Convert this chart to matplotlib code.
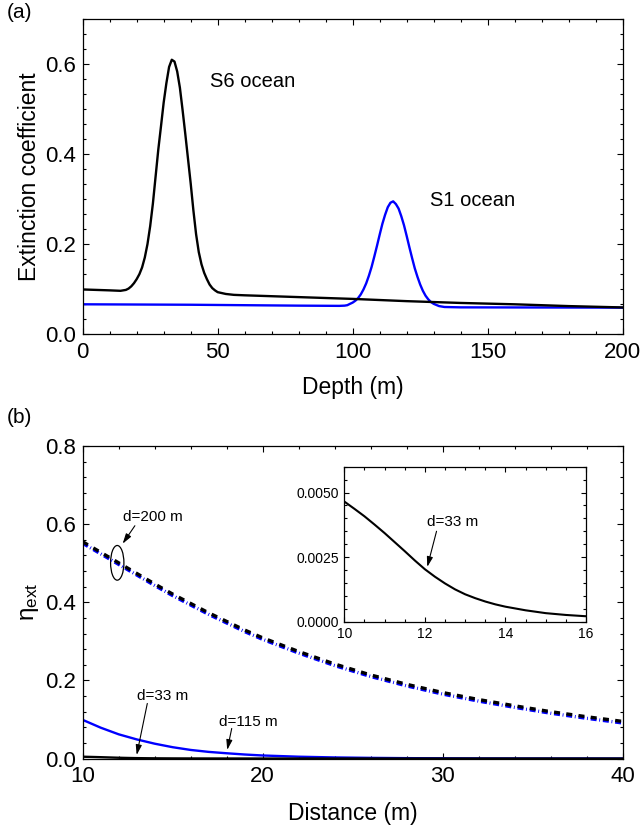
import matplotlib
matplotlib.use("Agg")
import matplotlib.pyplot as plt
from matplotlib.ticker import MultipleLocator, AutoMinorLocator, FormatStrFormatter
from matplotlib.patches import Ellipse

plt.rcParams['font.family'] = ['Liberation Sans', 'DejaVu Sans']
plt.rcParams['mathtext.fontset'] = 'custom'
plt.rcParams['mathtext.rm'] = 'Liberation Sans'
plt.rcParams['mathtext.it'] = 'Liberation Sans:italic'

# ---- (a) extinction coefficient profiles versus depth ----
depth_s6 = [0, 5, 10, 14, 16, 17, 18, 19, 20, 21, 22, 23, 24, 25, 26, 27, 28, 29,
            30, 31, 32, 33, 34, 35, 36, 37, 38, 39, 40, 41, 42, 43, 44, 45, 46,
            47, 48, 49, 50, 53, 56, 60, 80, 100, 120, 140, 160, 180, 200]
ext_s6 = [0.099, 0.098, 0.097, 0.096, 0.098, 0.101, 0.106, 0.113, 0.122, 0.133,
          0.148, 0.170, 0.200, 0.240, 0.290, 0.350, 0.410, 0.462, 0.515, 0.558,
          0.594, 0.610, 0.606, 0.584, 0.548, 0.498, 0.445, 0.390, 0.335, 0.275,
          0.222, 0.182, 0.155, 0.136, 0.122, 0.110, 0.102, 0.097, 0.093, 0.089,
          0.087, 0.086, 0.082, 0.078, 0.073, 0.069, 0.066, 0.062, 0.059]

depth_s1 = [0, 20, 40, 60, 80, 95, 97, 98, 99, 100, 101, 102, 103, 104, 105, 106,
            107, 108, 109, 110, 111, 112, 113, 114, 115, 116, 117, 118, 119, 120,
            121, 122, 123, 124, 125, 126, 127, 128, 129, 130, 131, 132, 133, 134,
            140, 160, 180, 200]
ext_s1 = [0.066, 0.0655, 0.065, 0.064, 0.063, 0.0625, 0.0630, 0.064, 0.067,
          0.0698, 0.074, 0.0797, 0.088, 0.099, 0.1125, 0.1295, 0.149, 0.172,
          0.196, 0.221, 0.245, 0.265, 0.282, 0.292, 0.295, 0.289, 0.279, 0.262,
          0.242, 0.218, 0.193, 0.169, 0.146, 0.127, 0.110, 0.096, 0.085, 0.077,
          0.071, 0.067, 0.0645, 0.062, 0.061, 0.060, 0.0592, 0.059, 0.0588,
          0.0585]

# ---- (b) eta_ext versus distance ----
distance = [10, 11, 12, 13, 14, 15, 16, 17, 18, 19, 20, 22, 24, 26, 28, 30, 32,
            34, 36, 38, 40]
eta_s6_200 = [0.555, 0.528, 0.501, 0.474, 0.447, 0.421, 0.397, 0.373, 0.351,
              0.329, 0.309, 0.274, 0.242, 0.214, 0.190, 0.169, 0.151, 0.135,
              0.120, 0.107, 0.095]
eta_s1_200 = [0.551, 0.524, 0.497, 0.470, 0.443, 0.417, 0.393, 0.369, 0.347,
              0.325, 0.305, 0.270, 0.238, 0.210, 0.186, 0.165, 0.147, 0.131,
              0.116, 0.103, 0.091]
eta_s1_115 = [0.099, 0.079, 0.062, 0.049, 0.038, 0.029, 0.022, 0.017, 0.0135,
              0.0103, 0.0078, 0.0047, 0.0028, 0.0017, 0.0010, 0.0006, 0.0003,
              0.0002, 0.0001, 0.0001, 0.0]

distance_fine = [10, 10.25, 10.5, 10.75, 11, 11.25, 11.5, 11.75, 12, 12.25, 12.5,
                 12.75, 13, 13.25, 13.5, 13.75, 14, 14.5, 15, 15.5, 16, 17, 18,
                 20, 25, 30, 40]
eta_s6_33 = [0.00465, 0.00437, 0.00408, 0.00376, 0.00343, 0.00308, 0.00273,
             0.00237, 0.00203, 0.00174, 0.00148, 0.00125, 0.00106, 0.00091,
             0.00078, 0.00067, 0.00058, 0.00044, 0.00033, 0.00026, 0.00021,
             0.00013, 0.00008, 0.00003, 0.0, 0.0, 0.0]


def style_axes(ax, xmin_div, ymin_div, labelsize, xpad, ypad):
    ax.xaxis.set_minor_locator(AutoMinorLocator(xmin_div))
    ax.yaxis.set_minor_locator(AutoMinorLocator(ymin_div))
    ax.tick_params(which='both', direction='in', top=True, right=True,
                   width=0.8, color='black')
    ax.tick_params(which='major', length=4.5, labelsize=labelsize)
    ax.tick_params(axis='x', which='major', pad=xpad)
    ax.tick_params(axis='y', which='major', pad=ypad)
    ax.tick_params(which='minor', length=2.5)
    for sp in ax.spines.values():
        sp.set_linewidth(0.9)


fig = plt.figure(figsize=(6.41, 8.32), dpi=100)

# panel (a)
ax_a = fig.add_axes([0.1290, 0.5986, 0.8424, 0.3782])
ax_a.plot(depth_s1, ext_s1, color='#0000ff', lw=1.7)
ax_a.plot(depth_s6, ext_s6, color='black', lw=1.7)
ax_a.set_xlim(0, 200)
ax_a.set_ylim(0, 0.7)
ax_a.xaxis.set_major_locator(MultipleLocator(50))
ax_a.yaxis.set_major_locator(MultipleLocator(0.2))
ax_a.yaxis.set_major_formatter(FormatStrFormatter('%.1f'))
style_axes(ax_a, 5, 6, 16, 5.5, 4.5)
ax_a.set_xlabel('Depth (m)', fontsize=16.5, va='center')
ax_a.xaxis.set_label_coords(0.5, -0.1716)
ax_a.set_ylabel('Extinction coefficient', fontsize=16.5, va='center')
ax_a.yaxis.set_label_coords(-0.0983, 0.5)
ax_a.text(47, 0.561, 'S6 ocean', fontsize=14.5, ha='left', va='center')
ax_a.text(128.8, 0.297, 'S1 ocean', fontsize=14.5, ha='left', va='center')

# panel (b)
ax_b = fig.add_axes([0.1290, 0.0883, 0.8424, 0.3756])
ax_b.plot(distance, eta_s1_200, color='#0000ff', lw=2.4,
          dashes=(1.8, 0.8, 0.25, 0.85))
ax_b.plot(distance, eta_s6_200, color='black', lw=2.4, dashes=(1.8, 1.9))
ax_b.plot(distance, eta_s1_115, color='#0000ff', lw=1.7)
ax_b.plot(distance_fine, eta_s6_33, color='black', lw=1.7)
ax_b.set_xlim(10, 40)
ax_b.set_ylim(0, 0.8)
ax_b.xaxis.set_major_locator(MultipleLocator(10))
ax_b.yaxis.set_major_locator(MultipleLocator(0.2))
ax_b.yaxis.set_major_formatter(FormatStrFormatter('%.1f'))
style_axes(ax_b, 5, 5, 16, 5.5, 4.5)
ax_b.set_xlabel('Distance (m)', fontsize=16.5, va='center')
ax_b.xaxis.set_label_coords(0.5, -0.1754)
ax_b.set_ylabel(r'$\mathrm{\eta}_{\mathrm{ext}}$', fontsize=17.5, va='center')
ax_b.yaxis.set_label_coords(-0.0976, 0.5)

arrow = dict(arrowstyle='-|>,head_length=0.6,head_width=0.18', lw=0.8,
             color='black', shrinkA=0, shrinkB=0)
ax_b.text(12.22, 0.619, 'd=200 m', fontsize=11, ha='left', va='center')
ax_b.annotate('', xy=(12.22, 0.550), xytext=(12.9, 0.596), arrowprops=arrow)
ax_b.add_patch(Ellipse((11.92, 0.501), width=0.74, height=0.0888,
                       fill=False, lw=0.9, color='black'))
ax_b.text(13.03, 0.160, 'd=33 m', fontsize=11, ha='left', va='center')
ax_b.annotate('', xy=(13.0, 0.009), xytext=(13.59, 0.141), arrowprops=arrow)
ax_b.text(17.59, 0.094, 'd=115 m', fontsize=11, ha='left', va='center')
ax_b.annotate('', xy=(18.03, 0.022), xytext=(18.28, 0.077), arrowprops=arrow)

# inset: d=33 m curve on a finer scale
ax_in = fig.add_axes([0.5371, 0.2528, 0.3771, 0.1863])
ax_in.plot(distance_fine, eta_s6_33, color='black', lw=1.5)
ax_in.set_xlim(10, 16)
ax_in.set_ylim(0, 0.006)
ax_in.xaxis.set_major_locator(MultipleLocator(2))
ax_in.yaxis.set_major_locator(MultipleLocator(0.0025))
ax_in.yaxis.set_major_formatter(FormatStrFormatter('%.4f'))
style_axes(ax_in, 4, 5, 10, 4, 3.5)
ax_in.tick_params(which='major', length=3.5)
ax_in.tick_params(which='minor', length=2)
ax_in.text(12.06, 0.00385, 'd=33 m', fontsize=11, ha='left', va='center')
ax_in.annotate('', xy=(12.06, 0.00212), xytext=(12.29, 0.00350),
               arrowprops=arrow)

fig.text(7 / 641, 1 - 3 / 832, '(a)', fontsize=15, ha='left', va='top')
fig.text(7 / 641, 1 - 408 / 832, '(b)', fontsize=15, ha='left', va='top')

fig.savefig('out.png', dpi=100)
